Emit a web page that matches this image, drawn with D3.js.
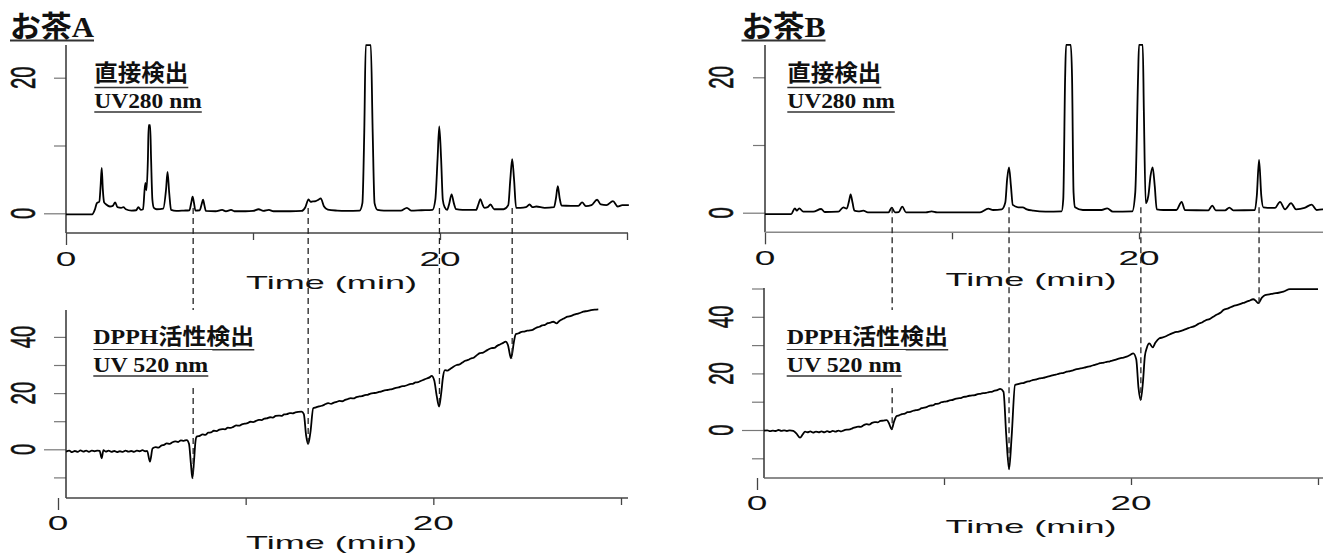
<!DOCTYPE html>
<html><head><meta charset="utf-8">
<script src="https://cdn.jsdelivr.net/npm/d3@7"></script>
<style>html,body{margin:0;padding:0;background:#fff;}svg{display:block;}</style>
</head><body>
<svg id="chart" width="1323" height="556"></svg>
<script>
// ---------------- DATA (time in min, signal) ----------------
const xTickValues = [0, 10, 20, 30];
const xTickLabels = ["0", "20"];           // labelled ticks
const xTickLabelValues = [0, 20];
const yTicksDirect = [0, 10, 20];
const yTickLabelsDirect = [0, 20];
const yTicksDpphA = [-10, 0, 10, 20, 30, 40];
const yTicksDpphB = [-10, 0, 10, 20, 30, 40, 50];
const yTickLabelsDpph = [0, 20, 40];
const titles = ["お茶A", "お茶B"];
const directLabel = ["直接検出", "UV280 nm"];
const dpphLabel = ["DPPH活性検出", "UV 520 nm"];
const axisTitle = "Time (min)";

// marker (dashed) times read on the upper time axis
const markersA = [6.8, 12.95, 19.97, 23.86];
const markersB = [6.8, 13.05, 20.1, 26.42];

// お茶A  direct detection UV280
const directA = [[0,-0.15],[1.4,-0.15],[1.55,0.6],[1.65,1.5],[1.78,1.7],[1.85,4],[1.91,6.7],[1.97,3.5],[2.04,1.6],[2.15,1.3],[2.35,1.0],[2.5,1.1],[2.63,1.6],[2.75,0.9],[2.95,0.8],[3.07,0.9],[3.2,0.6],[3.5,0.4],[3.75,0.45],[3.87,0.9],[4.0,0.5],[4.12,0.6],[4.24,4.5],[4.3,3.4],[4.38,8],[4.42,13.0],[4.5,13.0],[4.55,8],[4.62,2.0],[4.7,0.8],[4.85,0.6],[5.2,0.7],[5.35,3.5],[5.43,6.1],[5.52,3.0],[5.62,0.5],[5.9,0.35],[6.3,0.4],[6.6,0.45],[6.7,1.6],[6.77,2.45],[6.84,1.6],[6.92,0.4],[7.15,0.45],[7.25,1.3],[7.33,2.0],[7.4,1.2],[7.48,0.35],[8.0,0.3],[8.35,0.5],[8.55,0.3],[8.83,0.5],[9.0,0.3],[9.6,0.3],[10.0,0.35],[10.3,0.6],[10.55,0.35],[10.85,0.5],[11.1,0.3],[12.0,0.3],[12.6,0.35],[12.8,0.9],[12.97,2.05],[13.08,1.7],[13.2,1.75],[13.35,1.8],[13.5,2.0],[13.62,2.2],[13.8,1.0],[14.0,0.55],[14.5,0.4],[15.0,0.35],[15.7,0.4],[15.85,1.5],[15.95,12],[16.03,24.8],[16.3,24.8],[16.4,12],[16.5,1.5],[16.66,0.5],[17.0,0.4],[17.9,0.4],[18.23,0.8],[18.45,0.4],[19.0,0.45],[19.6,0.5],[19.75,2],[19.87,8],[19.96,12.8],[20.06,8],[20.15,2],[20.25,0.9],[20.38,0.5],[20.5,1.5],[20.62,2.8],[20.74,1.5],[20.86,0.6],[21.2,0.5],[21.93,0.5],[22.05,1.3],[22.16,2.1],[22.27,1.3],[22.38,0.8],[22.55,0.9],[22.7,1.3],[22.9,0.6],[23.4,0.6],[23.65,1.2],[23.76,5],[23.86,8.0],[23.96,5],[24.07,0.8],[24.3,0.8],[24.6,0.9],[24.79,1.3],[24.95,0.9],[25.15,1.0],[25.6,0.8],[26.1,0.9],[26.2,2.2],[26.3,4.0],[26.4,2.2],[26.5,1.15],[27.0,1.1],[27.4,1.1],[27.6,1.6],[27.8,1.05],[28.1,1.2],[28.4,2.0],[28.6,1.3],[28.9,1.2],[29.25,1.8],[29.5,1.0],[29.75,1.2],[30.1,1.2]];

// お茶A  DPPH detection UV520 (own, delayed time axis)
const dpphA = [[0.43,-0.85],[0.6,-0.5],[0.75,-1.0],[0.9,-0.6],[1.05,-0.9],[1.2,-0.4],[1.35,-0.8],[1.5,-0.5],[1.65,-0.9],[1.8,-0.5],[1.95,-0.7],[2.1,-0.5],[2.22,-0.6],[2.33,-3.2],[2.42,-0.3],[2.55,-0.8],[2.7,-0.5],[2.85,-0.9],[3.0,-0.6],[3.15,-1.0],[3.3,-0.7],[3.45,-0.9],[3.6,-0.5],[3.75,-0.8],[3.9,-0.6],[4.05,-0.9],[4.2,-0.5],[4.35,-0.7],[4.5,-0.3],[4.65,-0.7],[4.75,-0.6],[4.9,-4.4],[5.04,0.3],[5.2,0.8],[5.35,0.6],[5.5,1.3],[5.65,1.6],[5.79,2.1],[5.95,1.9],[6.1,2.5],[6.25,2.8],[6.4,2.6],[6.55,3.2],[6.7,3.0],[6.86,3.3],[6.98,2.0],[7.08,-5],[7.16,-10.3],[7.25,-4],[7.32,2.5],[7.39,4.5],[7.55,4.8],[7.7,5.3],[7.85,5.1],[8.0,5.9],[8.15,6.0],[8.3,6.6],[8.45,6.5],[8.6,7.0],[8.75,7.2],[8.9,7.1],[9.05,7.7],[9.2,7.6],[9.34,8.0],[9.5,8.5],[9.65,8.4],[9.8,8.9],[9.95,9.1],[10.1,9.3],[10.25,9.8],[10.4,9.7],[10.55,10.1],[10.7,10.5],[10.85,10.4],[11.0,10.9],[11.12,11.0],[11.3,11.4],[11.45,11.3],[11.6,11.9],[11.75,12.0],[11.9,11.9],[12.05,12.4],[12.2,12.5],[12.35,12.9],[12.5,12.8],[12.65,13.1],[12.8,13.3],[12.98,13.4],[13.1,12.5],[13.22,5],[13.33,1.9],[13.45,6],[13.6,14.6],[13.75,14.9],[13.9,15.3],[14.05,15.5],[14.2,15.9],[14.4,16.4],[14.55,16.2],[14.7,16.6],[14.85,16.9],[15.0,17.2],[15.15,17.1],[15.3,17.6],[15.45,17.9],[15.6,18.2],[15.75,18.1],[15.9,18.6],[16.05,18.8],[16.2,18.9],[16.35,19.3],[16.5,19.4],[16.65,19.8],[16.8,20.0],[16.95,20.1],[17.1,20.4],[17.25,20.6],[17.4,21.0],[17.55,21.1],[17.7,21.3],[17.85,21.5],[18.0,21.9],[18.15,22.0],[18.3,22.4],[18.45,22.5],[18.6,22.8],[18.75,23.2],[18.9,23.3],[19.05,23.8],[19.2,23.9],[19.35,24.4],[19.5,24.8],[19.65,25.2],[19.8,25.6],[19.91,26.1],[20.05,24.5],[20.18,19],[20.31,15.2],[20.42,20],[20.52,26],[20.62,28.2],[20.75,28.0],[20.9,28.6],[21.05,29.3],[21.24,30.0],[21.4,30.2],[21.55,30.9],[21.7,31.5],[21.85,31.8],[22.0,32.3],[22.15,32.6],[22.3,33.4],[22.48,34.2],[22.65,34.4],[22.8,35.0],[22.95,35.6],[23.1,36.0],[23.25,36.1],[23.4,36.8],[23.55,37.3],[23.7,37.8],[23.85,38.3],[23.98,37],[24.07,34],[24.13,32.4],[24.2,34],[24.3,38.5],[24.4,41.0],[24.55,41.3],[24.7,41.8],[24.85,41.9],[25.0,42.2],[25.15,42.3],[25.32,42.6],[25.5,43.3],[25.65,43.6],[25.8,44.1],[25.95,44.3],[26.1,44.9],[26.25,45.1],[26.39,45.4],[26.57,44.8],[26.7,45.6],[26.85,46.2],[27.0,46.7],[27.15,47.2],[27.3,47.4],[27.5,47.9],[27.7,48.3],[27.85,48.6],[27.99,49.0],[28.2,49.2],[28.4,49.5],[28.6,49.7],[28.79,49.8]];

// お茶B  direct detection UV280
const directB = [[0,-0.2],[1.4,-0.2],[1.6,0.65],[1.7,0.3],[1.83,0.65],[2.05,0.15],[2.58,0.15],[3.0,0.55],[3.2,0.1],[3.92,0.15],[4.19,0.8],[4.37,0.6],[4.5,1.8],[4.58,2.7],[4.68,1.5],[4.78,0.3],[5.0,0.2],[5.26,0.3],[5.5,0.05],[6.6,0.05],[6.78,0.75],[6.95,0.05],[7.15,0.1],[7.34,0.9],[7.54,0.05],[8.6,0.05],[8.91,0.2],[9.2,0.05],[11.5,0.05],[11.94,0.6],[12.2,0.4],[12.66,0.5],[12.85,1.5],[12.95,5],[13.05,6.7],[13.15,4],[13.25,1.15],[13.55,0.8],[13.78,0.8],[14.0,0.5],[14.35,0.3],[15.0,0.15],[15.86,0.2],[15.95,2],[16.05,20],[16.1,24.8],[16.35,24.8],[16.42,20],[16.5,3],[16.58,0.8],[17.0,0.4],[18.0,0.4],[18.3,0.65],[18.6,0.15],[19.64,0.2],[19.8,3],[19.95,20],[20.0,24.8],[20.2,24.8],[20.26,15],[20.36,1.4],[20.5,2.5],[20.62,5.5],[20.73,6.7],[20.84,4],[20.95,0.5],[21.3,0.4],[22.0,0.4],[22.28,1.6],[22.46,0.4],[23.7,0.35],[23.92,1.05],[24.1,0.35],[24.6,0.35],[24.83,0.75],[25.04,0.35],[26.2,0.4],[26.3,2.5],[26.42,7.8],[26.54,2.5],[26.65,0.8],[27.27,0.7],[27.54,1.6],[27.81,0.5],[28.13,1.4],[28.4,0.5],[28.85,0.7],[29.23,1.2],[29.5,0.4],[29.8,0.5],[30.0,0.5]];

// お茶B  DPPH detection UV520
const dpphB = [[0.37,-0.25],[0.55,-0.1],[0.7,-0.4],[0.85,-0.2],[1.0,-0.35],[1.15,0.0],[1.3,-0.3],[1.45,-0.1],[1.6,-0.35],[1.75,-0.1],[1.94,-0.3],[2.1,-1.2],[2.3,-2.7],[2.45,-1.5],[2.57,-0.6],[2.7,-0.8],[2.85,-0.5],[3.0,-0.9],[3.15,-0.6],[3.3,-0.8],[3.45,-0.5],[3.6,-0.8],[3.75,-0.4],[3.9,-0.7],[4.05,-0.3],[4.2,-0.6],[4.35,-0.2],[4.5,-0.5],[4.65,-0.1],[4.8,0.1],[4.97,0.2],[5.1,0.6],[5.25,0.9],[5.4,1.2],[5.55,1.1],[5.7,1.7],[5.86,2.1],[6.0,1.9],[6.15,2.5],[6.3,2.8],[6.45,2.7],[6.6,3.2],[6.75,3.3],[6.94,3.5],[7.08,2.0],[7.2,0.2],[7.33,3.0],[7.47,4.95],[7.6,5.2],[7.75,5.6],[7.9,5.8],[8.05,6.3],[8.2,6.4],[8.35,6.8],[8.5,7.0],[8.65,7.2],[8.8,7.7],[8.95,7.9],[9.1,8.2],[9.25,8.6],[9.4,8.7],[9.55,9.2],[9.7,9.3],[9.85,9.8],[10.0,10.0],[10.15,10.1],[10.3,10.5],[10.45,10.6],[10.6,11.0],[10.75,11.2],[10.9,11.3],[11.05,11.7],[11.2,11.8],[11.35,12.1],[11.5,12.2],[11.65,12.3],[11.8,12.7],[11.95,12.8],[12.1,13.0],[12.25,13.1],[12.4,13.4],[12.55,13.5],[12.7,13.9],[12.85,14.1],[13.0,14.5],[13.18,13.5],[13.33,-2],[13.48,-13.9],[13.62,-2],[13.8,15.9],[13.95,16.2],[14.1,16.5],[14.25,16.6],[14.4,17.0],[14.6,17.3],[14.78,17.7],[14.95,17.9],[15.1,18.2],[15.3,18.4],[15.5,18.8],[15.7,19.1],[15.9,19.5],[16.05,19.7],[16.2,20.0],[16.4,20.2],[16.56,20.6],[16.75,20.8],[16.9,21.1],[17.1,21.5],[17.3,21.8],[17.5,22.0],[17.7,22.4],[17.85,22.6],[18.0,22.9],[18.2,23.3],[18.34,23.6],[18.55,23.8],[18.7,24.1],[18.85,24.2],[19.0,24.5],[19.2,24.9],[19.4,25.3],[19.6,25.6],[19.77,25.9],[19.95,26.5],[20.12,27.1],[20.28,25],[20.4,15],[20.52,10.6],[20.64,17],[20.74,26],[20.84,28.9],[20.98,30.6],[21.16,29.2],[21.3,30.8],[21.52,32.4],[21.7,32.7],[21.9,33.2],[22.1,33.9],[22.3,34.4],[22.55,34.8],[22.8,35.3],[23.0,35.8],[23.2,36.3],[23.4,36.7],[23.6,37.5],[23.8,38.0],[24.0,38.8],[24.2,39.2],[24.4,40.0],[24.6,40.8],[24.8,41.5],[24.94,42.4],[25.2,43.0],[25.47,43.8],[25.7,44.2],[26.0,44.9],[26.3,45.6],[26.54,46.2],[26.68,45.6],[26.81,44.8],[27.0,46.8],[27.17,47.7],[27.4,47.9],[27.6,48.2],[27.9,48.5],[28.15,48.9],[28.5,49.8],[30.0,49.8]];

// ---------------- DRAWING ----------------
const svg = d3.select("#chart");
svg.append("rect").attr("width",1323).attr("height",556).attr("fill","#fff");

const CJK = "'Noto Sans CJK JP', sans-serif";
const SERIF = "'Liberation Serif', 'Times New Roman', serif";
const SANS = "'Liberation Sans', Arial, sans-serif";

const layers = {
  axes: svg.append("g"),
  curves: svg.append("g"),
  dashes: svg.append("g"),
  labels: svg.append("g")
};

const panels = [
  { // A top
    x: d3.scaleLinear().domain([0,30]).range([66,627]),
    y: d3.scaleLinear().domain([0,20]).range([213.3,77.7]),
    data: directA, yTicks: yTicksDirect, yLabels: yTickLabelsDirect,
    yAxisTop: 45, xAxisY: 233, xAxisX: [66,628], yAxisX: 66,
    axisColor: "#333", xAxisColor: "#444", tickLabelY: 266, labelX: 22.5,
    titleY: 289, titleX: 331.5
  },
  { // A bottom
    x: d3.scaleLinear().domain([0,30]).range([58,621]),
    y: d3.scaleLinear().domain([0,40]).range([449.3,336.9]),
    data: dpphA, yTicks: yTicksDpphA, yLabels: yTickLabelsDpph,
    yAxisTop: 310, xAxisY: 498, xAxisX: [66,628], yAxisX: 66,
    axisColor: "#333", xAxisColor: "#444", tickLabelY: 530, labelX: 22.5,
    titleY: 549, titleX: 331.5
  },
  { // B top
    x: d3.scaleLinear().domain([0,30]).range([765,1326]),
    y: d3.scaleLinear().domain([0,20]).range([212.7,77.3]),
    data: directB, yTicks: yTicksDirect, yLabels: yTickLabelsDirect,
    yAxisTop: 45, xAxisY: 232.3, xAxisX: [765,1323], yAxisX: 765,
    axisColor: "#333", xAxisColor: "#888", tickLabelY: 265, labelX: 720,
    titleY: 286, titleX: 1031
  },
  { // B bottom
    x: d3.scaleLinear().domain([0,30]).range([757,1318]),
    y: d3.scaleLinear().domain([0,40]).range([430,316.8]),
    data: dpphB, yTicks: yTicksDpphB, yLabels: yTickLabelsDpph,
    yAxisTop: 288, xAxisY: 478, xAxisX: [764,1323], yAxisX: 764,
    axisColor: "#333", xAxisColor: "#666", tickLabelY: 510, labelX: 720.5,
    titleY: 532.5, titleX: 1031
  }
];

const line = (p) => d3.line().x(d => p.x(d[0])).y(d => p.y(d[1])).curve(d3.curveMonotoneX);

panels.forEach(p => {
  const g = layers.axes;
  // y ticks
  const ya = g.append("g").attr("transform", `translate(${p.yAxisX},0)`)
    .call(d3.axisLeft(p.y).tickValues(p.yTicks).tickSize(12).tickFormat(""));
  ya.select(".domain").remove();
  ya.selectAll(".tick line").attr("stroke","#777").attr("stroke-width",1.2)
    .attr("x2", d => d === 0 ? -22 : -12);
  // x ticks
  const xa = g.append("g").attr("transform", `translate(0,${p.xAxisY})`)
    .call(d3.axisBottom(p.x).tickValues(xTickValues).tickSize(7).tickFormat(""));
  xa.select(".domain").remove();
  xa.selectAll(".tick line").attr("stroke","#444").attr("stroke-width",1.3)
    .attr("y2", d => d === 0 ? 12 : 7);
  // axis lines
  g.append("line").attr("x1",p.yAxisX).attr("x2",p.yAxisX).attr("y1",p.yAxisTop).attr("y2",p.xAxisY)
    .attr("stroke",p.axisColor).attr("stroke-width",1.5);
  g.append("line").attr("x1",p.xAxisX[0]).attr("x2",p.xAxisX[1]).attr("y1",p.xAxisY).attr("y2",p.xAxisY)
    .attr("stroke",p.xAxisColor).attr("stroke-width",1.5);
  // y tick labels (rotated, stretched)
  g.selectAll(null).data(p.yLabels).enter().append("text")
    .attr("transform", d => `translate(${p.labelX},${p.y(d)}) scale(1.75,1) rotate(-90)`)
    .attr("text-anchor","middle").attr("dy","0.36em")
    .attr("font-family",SANS).attr("font-size",20.5).attr("fill","#111")
    .attr("stroke","#111").attr("stroke-width",0.35)
    .text(d => String(d));
  // x tick labels
  g.selectAll(null).data(xTickLabelValues).enter().append("text")
    .attr("transform", d => `translate(${p.x(d)},${p.tickLabelY}) scale(1.85,1)`)
    .attr("text-anchor","middle")
    .attr("font-family",SANS).attr("font-size",20).attr("fill","#111")
    .text((d,i) => xTickLabels[i]);
  // axis title
  g.append("text").attr("transform", `translate(${p.titleX},${p.titleY}) scale(1.9,1)`)
    .attr("text-anchor","middle").attr("font-family",SANS).attr("font-size",19).attr("fill","#111")
    .text(axisTitle);
  // curve
  layers.curves.append("path").datum(p.data).attr("d", line(p)).attr("fill","none")
    .attr("stroke","#000").attr("stroke-width",1.8).attr("stroke-linejoin","round");
});

// dashed connector lines: from peak in upper trace to the dip in lower trace
function connectors(top, bottom, times) {
  times.forEach(t => {
    const px = top.x(t);
    const tb = bottom.x.invert(px);
    const near = bottom.data.filter(d => Math.abs(d[0] - tb) < 0.5);
    const vmin = d3.min(near, d => d[1]);
    layers.dashes.append("line")
      .attr("x1",px).attr("x2",px)
      .attr("y1", top.y(0.8)).attr("y2", bottom.y(vmin))
      .attr("stroke","#222").attr("stroke-width",1.3).attr("stroke-dasharray","6,4");
  });
}
connectors(panels[0], panels[1], markersA);
connectors(panels[2], panels[3], markersB);

// text labels with underline; width-fitted
function label(x, baseline, parts, size, width, uY, uW, bg) {
  const g = layers.labels.append("g");
  let rect = null;
  if (bg) rect = g.append("rect").attr("fill","#fff");
  const t = g.append("text").attr("font-size",size).attr("font-weight","bold").attr("fill","#111");
  parts.forEach(pt => t.append("tspan").attr("font-family", pt[1]).text(pt[0]));
  const w = t.node().getComputedTextLength();
  t.attr("transform", `translate(${x},${baseline}) scale(${width / w},1)`);
  g.append("line").attr("x1",x).attr("x2",x+width).attr("y1",uY).attr("y2",uY)
    .attr("stroke","#333").attr("stroke-width",uW);
  if (bg) rect.attr("x",x-4).attr("width",width+8).attr("y",bg[0]).attr("height",bg[1]-bg[0]);
}

[[10, 0], [741.5, 1]].forEach(([x0, i]) => {
  label(x0, 36.5, [[titles[i].slice(0,2), CJK], [titles[i].slice(2), SERIF]], 30, 84, 40.5, 2);
});
[[94.3, 0], [787.3, 1]].forEach(([x0]) => {
  label(x0, 81, [[directLabel[0], CJK]], 23, 94, 87.5, 1.6);
  label(x0, 108, [[directLabel[1], SERIF]], 22, 107.5, 112, 1.6);
});
[[93.3, 161, 115], [786.7, 161.5, 115]].forEach(([x0, w1, w2]) => {
  label(x0, 343.5, [[dpphLabel[0].slice(0,4), SERIF], [dpphLabel[0].slice(4), CJK]], 22, w1, 349.8, 1.6, [310, 352]);
  label(x0, 372, [[dpphLabel[1], SERIF]], 22, w2, 376, 1.6, [350, 388]);
});
</script>
</body></html>
